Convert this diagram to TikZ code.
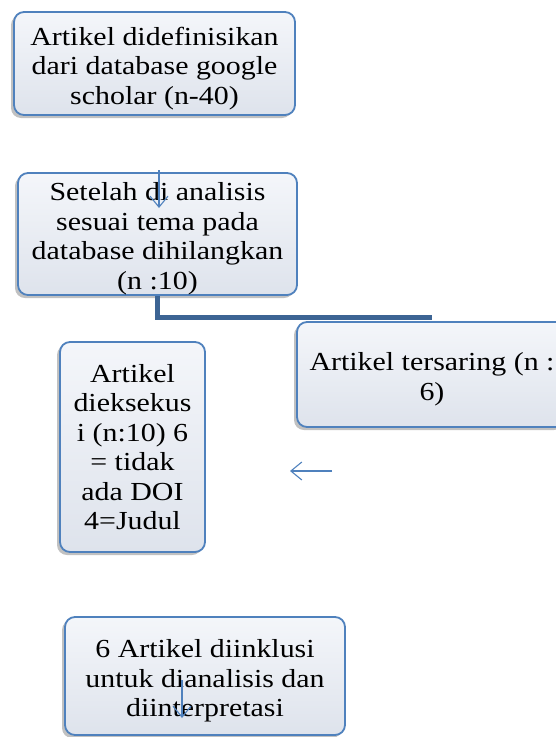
\documentclass[tikz,border=0pt]{standalone}
\usepackage{fontspec}
\setmainfont{Liberation Serif}[FakeStretch=1.15]
\usepackage{xcolor}
\usetikzlibrary{shadows,arrows.meta}

\definecolor{boxline}{RGB}{79,129,189}
\definecolor{boxtop}{RGB}{244,246,250}
\definecolor{boxbot}{RGB}{222,227,236}
\definecolor{elbowline}{RGB}{60,100,148}
\newcommand{\toppad}{\rule{0pt}{28pt}}

\begin{document}
\begin{tikzpicture}[x=1pt,y=-1pt,
  box/.style={draw=boxline,line width=1.8pt,rounded corners=10pt,
    top color=boxtop,bottom color=boxbot,align=center,inner sep=0pt,
    font=\fontsize{26}{29.5}\selectfont,
    drop shadow={shadow xshift=-3pt,shadow yshift=-3pt,opacity=0.35,fill=black!70}},
  thinarrow/.style={draw=boxline,line width=1.1pt,-{Straight Barb[length=11pt,width=18pt]}},
  elbow/.style={draw=elbowline,line width=5pt}]
\clip (0,0) rectangle (556,737);
\useasboundingbox (0,0) rectangle (556,737);

\node[box,minimum width=281pt,minimum height=103pt] (start) at (154.5,63.5)
  {\toppad Artikel didefinisikan\\dari database google\\scholar (n-40)};
\node[box,minimum width=279pt,minimum height=122pt] (analisis) at (157.5,234)
  {\toppad Setelah di analisis\\sesuai tema pada\\database dihilangkan\\(n :10)};

\draw[elbow] (analisis.south) |- ([yshift=5pt]432,322);
\node[box,minimum width=270pt,minimum height=105pt] (tersaring) at (432,374.5)
  {\toppad Artikel tersaring (n :\\6)};

\node[box,minimum width=145pt,minimum height=210pt] (eksekusi) at (132.5,447)
  {Artikel\\dieksekus\\i (n:10) 6\\= tidak\\ada DOI\\4=Judul};

\node[box,minimum width=280pt,minimum height=118pt] (inklusi) at (205,676)
  {\toppad 6 Artikel diinklusi\\untuk dianalisis dan\\diinterpretasi};

\coordinate (a1s) at (159,170);
\coordinate (a1e) at (159,208);
\coordinate (a2s) at (332,471);
\coordinate (a2e) at (290,471);
\coordinate (a3s) at (182,680);
\coordinate (a3e) at (182,718);
\draw[thinarrow] (a1s) -- (a1e);
\draw[thinarrow] (a2s) -- (a2e);
\draw[thinarrow] (a3s) -- (a3e);
\end{tikzpicture}
\end{document}
